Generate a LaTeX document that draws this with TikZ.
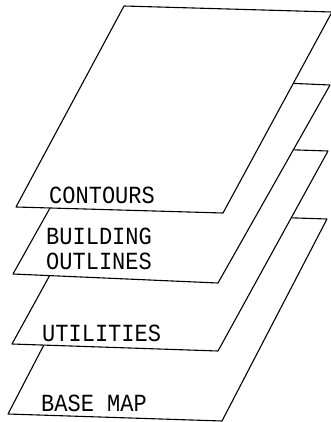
\documentclass[tikz,border=0pt]{standalone}
\usepackage{fontspec}
\newfontfamily\plotfont{Liberation Mono}
\begin{document}
\begin{tikzpicture}[x=1pt,y=-1pt,
  layer/.style={draw=black,fill=white,line width=1.1pt,line join=round},
  lbl/.style={anchor=base west,inner sep=0pt,font=\plotfont\fontsize{22}{22}\selectfont,yscale=1.12}]
\useasboundingbox[fill=white] (0,0) rectangle (331,422);
% base map
\draw[layer] (8,414) -- (222,421) -- (327,219) -- (113,212) -- cycle;
% utilities
\draw[layer] (12,344) -- (218,351) -- (328,151) -- (122,144) -- cycle;
% building outlines
\draw[layer] (13,274) -- (218,283) -- (330,85) -- (124,76) -- cycle;
% contours
\draw[layer] (16,207) -- (223,213) -- (332,12) -- (124,6) -- cycle;
\node[lbl] (contours) at (49,203) {CONTOURS};
\node[lbl,anchor=north west,align=left] (building) at (46,228) {BUILDING\\OUTLINES};
\node[lbl] (utilities) at (42,341) {UTILITIES};
\node[lbl] (basemap) at (41,411) {BASE MAP};
\end{tikzpicture}
\end{document}
